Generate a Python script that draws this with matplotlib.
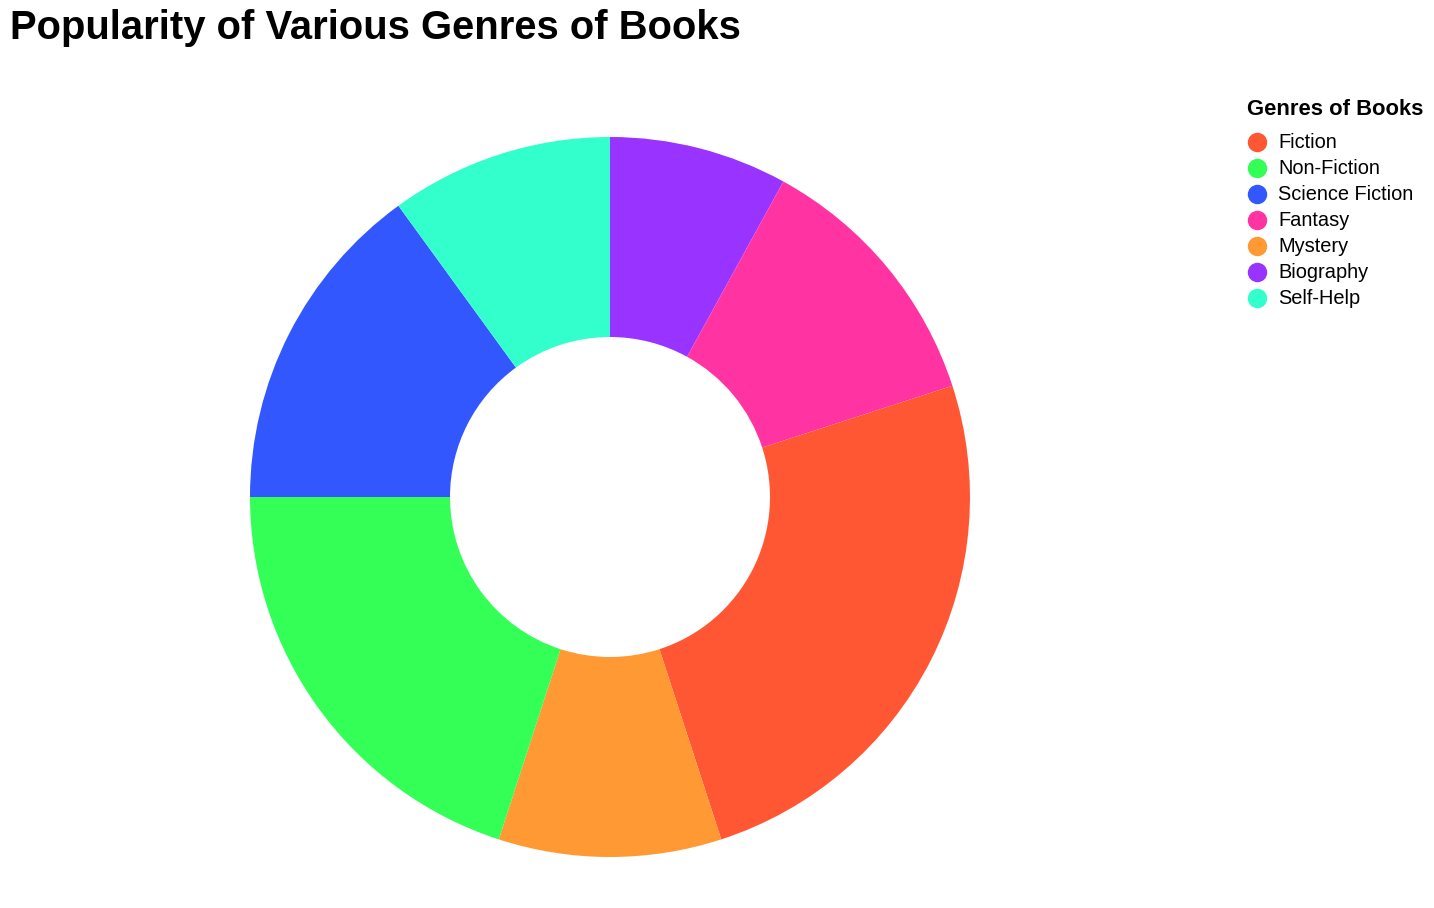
import matplotlib.pyplot as plt
from matplotlib.lines import Line2D

plt.rcParams['font.family'] = ['Liberation Sans', 'DejaVu Sans']

# legend / data order
genres = ['Fiction', 'Non-Fiction', 'Science Fiction', 'Fantasy', 'Mystery', 'Biography', 'Self-Help']
popularity = [25, 20, 15, 12, 10, 8, 10]
colors = ['#FF5733', '#33FF57', '#3357FF', '#FF33A1', '#FF9933', '#9933FF', '#33FFCC']

# slices are drawn sorted by name, clockwise from the top
order = sorted(range(len(genres)), key=lambda i: genres[i])
pie_vals = [popularity[i] for i in order]
pie_cols = [colors[i] for i in order]

W, H = 1434, 908
fig = plt.figure(figsize=(W / 100, H / 100), dpi=100)

cx, cy, r = 610, 497, 360
ax = fig.add_axes([(cx - r) / W, (H - cy - r) / H, 2 * r / W, 2 * r / H])
ax.pie(pie_vals, colors=pie_cols, startangle=90, counterclock=False,
       radius=1, wedgeprops=dict(width=200 / 360, linewidth=0))
ax.set_xlim(-1, 1)
ax.set_ylim(-1, 1)
ax.set_aspect('equal')
ax.axis('off')

fig.text(10 / W, 1 - 39 / H, 'Popularity of Various Genres of Books',
         fontsize=28.8, fontweight='bold', ha='left', va='baseline')

# legend title drawn separately so the gap below it can be set
fig.text(1247 / W, 1 - 115 / H, 'Genres of Books',
         fontsize=15.8, fontweight='bold', ha='left', va='baseline')

handles = [Line2D([], [], marker='o', linestyle='', markersize=14,
                  markerfacecolor=c, markeredgewidth=0) for c in colors]
leg = fig.legend(handles, genres, loc='upper left',
                 bbox_to_anchor=(1247 / W, 1 - 133.5 / H),
                 frameon=False, borderpad=0, borderaxespad=0,
                 handlelength=1.0, handletextpad=0.55, labelspacing=0.35,
                 fontsize=14.4)

fig.savefig('out.png', dpi=100)
